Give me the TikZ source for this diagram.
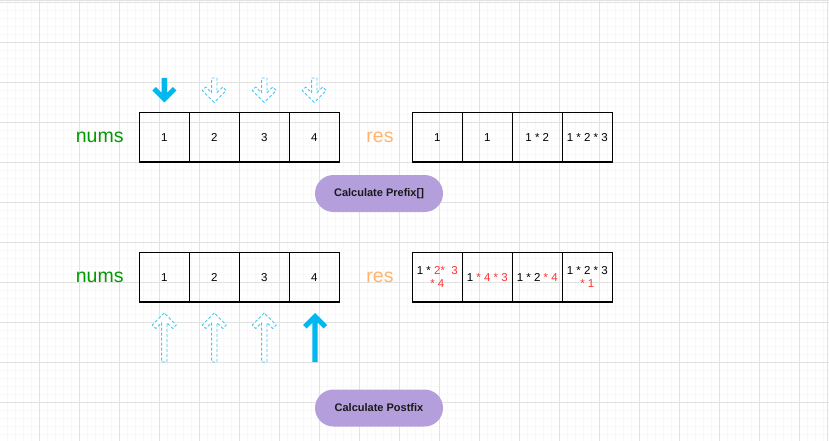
\documentclass[tikz,border=0pt]{standalone}
\usepackage{fontspec}
\setmainfont{Liberation Sans}
\usetikzlibrary{positioning}
\definecolor{gridmaj}{RGB}{226,226,226}
\definecolor{gridmin}{RGB}{248,248,248}
\definecolor{arrowdark}{RGB}{0,183,238}
\definecolor{arrowlight}{RGB}{70,200,240}
\definecolor{numsgreen}{RGB}{0,153,0}
\definecolor{resorange}{RGB}{255,181,112}
\definecolor{pill}{RGB}{180,158,220}
\definecolor{redtxt}{RGB}{255,51,51}
\newcommand\flexdown[4]{%
  \path[#1] (#2,#3) -- ++(-12,-12) -- ++(3.5,-3.5) -- (#2-2.7,#3-9.7) -- (#2-2.7,#4)
    -- (#2+2.7,#4) -- (#2+2.7,#3-9.7) -- (#2+8.5,#3-15.5) -- (#2+12,#3-12) -- cycle;}
\newcommand\flexup[4]{%
  \path[#1] (#2,#3) -- ++(-12,12) -- ++(3.5,3.5) -- (#2-2.7,#3+9.7) -- (#2-2.7,#4)
    -- (#2+2.7,#4) -- (#2+2.7,#3+9.7) -- (#2+8.5,#3+15.5) -- (#2+12,#3+12) -- cycle;}
\newcommand\rd[1]{\textcolor{redtxt}{#1}}
\begin{document}
\begin{tikzpicture}[x=1pt,y=-1pt,
  cell/.style={draw=black,line width=1.1pt,minimum width=50pt,minimum height=49.5pt,inner sep=0pt,font=\fontsize{11.5}{13.3}\selectfont,align=center},
  lbl/.style={font=\fontsize{19.5}{22}\selectfont,inner sep=0pt},
  pillbox/.style={fill=pill,rounded corners=18.5pt,minimum width=128pt,minimum height=37pt,inner sep=0pt,font=\fontsize{11}{12}\selectfont\bfseries,text=black!90},
  solidarr/.style={fill=arrowdark},
  dasharr/.style={draw=arrowlight,fill=white,line width=0.9pt,dash pattern=on 3pt off 2pt,line join=round}]
\useasboundingbox (0,0) rectangle (829,441);
\fill[white] (0,0) rectangle (829,441);
% grid
\foreach \k in {0,...,104} {\draw[gridmin,line width=0.5pt] (-0.7+8*\k,0) -- (-0.7+8*\k,441);}
\foreach \k in {0,...,55} {\draw[gridmin,line width=0.5pt] (0,2.3+8*\k) -- (829,2.3+8*\k);}
\foreach \k in {0,...,20} {\draw[gridmaj,line width=0.8pt] (39.3+40*\k,0) -- (39.3+40*\k,441);}
\foreach \k in {0,...,10} {\draw[gridmaj,line width=0.8pt] (0,2.3+40*\k) -- (829,2.3+40*\k);}
\draw[gridmaj,line width=1.2pt] (0,0.6) -- (829,0.6);
\draw[gridmaj,line width=1.5pt] (827.5,0) -- (827.5,441);
% top row
\node[lbl,text=numsgreen] (numsA) at (99.7,137.5) {nums};
\node[lbl,text=resorange] (resA) at (380,137.5) {res};
\node[cell] (n1) at (164.3,137.2) {1};
\node[cell] (n2) at (214.3,137.2) {2};
\node[cell] (n3) at (264.3,137.2) {3};
\node[cell] (n4) at (314.3,137.2) {4};
\node[cell] (r1) at (437.3,137.2) {1};
\node[cell] (r2) at (487.3,137.2) {1};
\node[cell] (r3) at (537.3,137.2) {1 * 2};
\node[cell] (r4) at (587.3,137.2) {1 * 2 * 3};
\node[pillbox] (pre) at (379,193.5) {Calculate Prefix[]};
% top arrows
\flexdown{solidarr}{164.3}{102.5}{78}
\flexdown{dasharr}{214.3}{102.5}{78}
\flexdown{dasharr}{264.3}{102.5}{78}
\flexdown{dasharr}{314.3}{102.5}{78}
% bottom row
\node[lbl,text=numsgreen] (numsB) at (99.7,277.5) {nums};
\node[lbl,text=resorange] (resB) at (380,277.5) {res};
\node[cell] (m1) at (164.3,277.2) {1};
\node[cell] (m2) at (214.3,277.2) {2};
\node[cell] (m3) at (264.3,277.2) {3};
\node[cell] (m4) at (314.3,277.2) {4};
\node[cell] (s1) at (437.3,277.2) {1 * \rd{2*\ \ 3}\\\rd{* 4}};
\node[cell] (s2) at (487.3,277.2) {1 \rd{* 4 * 3}};
\node[cell] (s3) at (537.3,277.2) {1 * 2 \rd{* 4}};
\node[cell] (s4) at (587.3,277.2) {1 * 2 * 3\\\rd{* 1}};
\node[pillbox] (post) at (379,408) {Calculate Postfix};
% bottom arrows
\flexup{dasharr}{164.3}{313}{362}
\flexup{dasharr}{214.3}{313}{362}
\flexup{dasharr}{264.3}{313}{362}
\flexup{solidarr}{315}{313}{362}
\end{tikzpicture}
\end{document}
